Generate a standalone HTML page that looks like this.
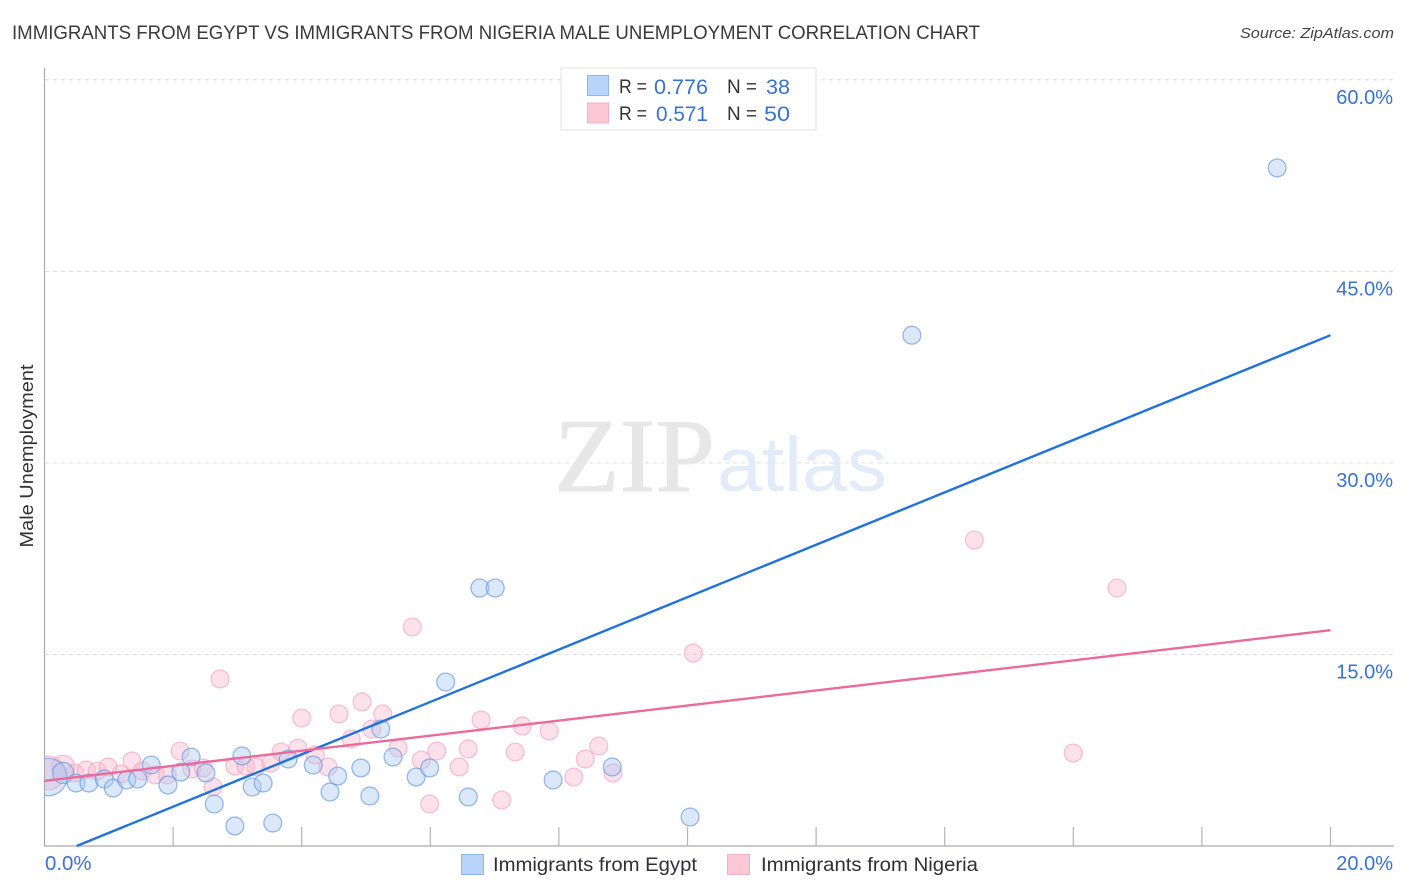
<!DOCTYPE html>
<html><head><meta charset="utf-8"><title>Immigrants from Egypt vs Immigrants from Nigeria Male Unemployment Correlation Chart</title>
<style>
html,body{margin:0;padding:0;background:#fff;width:1406px;height:892px;overflow:hidden}
svg{display:block;font-family:"Liberation Sans",sans-serif}
</style></head>
<body>
<svg id="chart" width="1406" height="892" viewBox="0 0 1406 892" xmlns="http://www.w3.org/2000/svg">
<defs><clipPath id="plot-clip"><rect x="45" y="60" width="1349" height="786"/></clipPath></defs>
<text x="12" y="39" font-size="19.5" fill="#3a3a3a" textLength="968" lengthAdjust="spacingAndGlyphs">IMMIGRANTS FROM EGYPT VS IMMIGRANTS FROM NIGERIA MALE UNEMPLOYMENT CORRELATION CHART</text>
<text x="1394" y="38" font-size="15" font-style="italic" fill="#444" text-anchor="end" textLength="154" lengthAdjust="spacingAndGlyphs">Source: ZipAtlas.com</text>
<g id="grid"></g>
<g>
<text x="554" y="491" font-family="'Liberation Serif',serif" font-size="105" fill="#e7e7e7" stroke="#e7e7e7" stroke-width="1" textLength="161" lengthAdjust="spacingAndGlyphs">ZIP</text>
<text x="717" y="491" font-size="77" fill="#e2ebfa" textLength="170" lengthAdjust="spacingAndGlyphs">atlas</text>
</g>
<g id="axes"></g>
<g id="points" clip-path="url(#plot-clip)"></g>
<g id="trends"></g>
<text transform="translate(33,456) rotate(-90)" font-size="18.5" fill="#333" text-anchor="middle" textLength="183" lengthAdjust="spacingAndGlyphs">Male Unemployment</text>
<g>
<rect x="561" y="68" width="255" height="62" fill="#fff" stroke="#e2e2e2" stroke-width="1"/>
<rect x="587.5" y="75.5" width="21" height="20" fill="#b8d4f8" stroke="#8fb6e8"/>
<rect x="587.5" y="103" width="21" height="20" fill="#fcc8d8" stroke="#f5b0c6"/>
<text x="619" y="93" font-size="19" fill="#333" textLength="28" lengthAdjust="spacingAndGlyphs">R =</text>
<text x="654" y="94" font-size="21" fill="#3a72d0" textLength="54" lengthAdjust="spacingAndGlyphs">0.776</text>
<text x="727" y="93" font-size="19" fill="#333" textLength="30" lengthAdjust="spacingAndGlyphs">N =</text>
<text x="766" y="94" font-size="21" fill="#3a72d0" textLength="24" lengthAdjust="spacingAndGlyphs">38</text>
<text x="619" y="120" font-size="19" fill="#333" textLength="28" lengthAdjust="spacingAndGlyphs">R =</text>
<text x="656" y="121" font-size="21" fill="#3a72d0" textLength="52" lengthAdjust="spacingAndGlyphs">0.571</text>
<text x="727" y="120" font-size="19" fill="#333" textLength="30" lengthAdjust="spacingAndGlyphs">N =</text>
<text x="764" y="121" font-size="21" fill="#3a72d0" textLength="26" lengthAdjust="spacingAndGlyphs">50</text>
</g>
<g>
<rect x="461.5" y="854.5" width="22" height="20" fill="#b8d4f8" stroke="#8fb6e8"/>
<text x="493" y="871" font-size="19.5" fill="#2f2f3a" textLength="204" lengthAdjust="spacingAndGlyphs">Immigrants from Egypt</text>
<rect x="727.5" y="854.5" width="22" height="20" fill="#fcc8d8" stroke="#f5b0c6"/>
<text x="761" y="871" font-size="19.5" fill="#2f2f3a" textLength="217" lengthAdjust="spacingAndGlyphs">Immigrants from Nigeria</text>
</g>
</svg>
<script>
const yTicks = [0, 15, 30, 45, 60];
const yTickLabels = ['', '15.0%', '30.0%', '45.0%', '60.0%'];
const xTicks = [0, 2, 4, 6, 8, 10, 12, 14, 16, 18, 20];
const xEndLabels = ['0.0%', '20.0%'];

const egyptX = [0.06,0.29,0.49,0.69,0.93,1.07,1.28,1.45,1.66,1.92,2.12,2.28,2.51,2.64,2.96,3.07,3.23,3.40,3.55,3.79,4.18,4.44,4.56,4.92,5.06,5.23,5.42,5.78,5.99,6.24,6.59,6.77,7.01,7.91,8.83,10.04,13.49,19.17];
const egyptY = [5.40,5.72,4.93,4.93,5.25,4.54,5.17,5.25,6.34,4.78,5.79,6.97,5.72,3.29,1.57,7.05,4.62,4.93,1.80,6.81,6.34,4.23,5.48,6.11,3.92,9.16,6.97,5.40,6.11,12.84,3.84,20.2,20.2,5.17,6.19,2.27,40.0,53.1];
const nigeriaX = [0.06,0.29,0.47,0.65,0.82,0.99,1.19,1.36,1.52,1.72,1.91,2.11,2.29,2.47,2.62,2.73,2.96,3.13,3.29,3.52,3.68,3.94,4.00,4.21,4.41,4.58,4.77,4.94,5.09,5.26,5.50,5.72,5.86,5.99,6.10,6.45,6.59,6.79,7.11,7.32,7.43,7.85,8.23,8.41,8.62,8.84,10.09,14.46,16.00,16.68];
const nigeriaY = [5.72,6.19,5.72,5.95,5.87,6.19,5.64,6.66,5.87,5.56,5.56,7.44,6.03,6.11,4.62,13.08,6.26,6.26,6.19,6.50,7.36,7.67,10.02,7.13,6.19,10.34,8.38,11.28,9.16,10.34,7.67,17.15,6.73,3.29,7.44,6.19,7.60,9.87,3.60,7.36,9.40,9.00,5.40,6.81,7.83,5.72,15.11,23.96,7.28,20.2];
const egyptWeights = [4.4,1.4];
const nigeriaWeights = [3.6,1.7];
const egyptTrendX = [0.5, 20];
const egyptTrendY = [0, 40];
const nigeriaTrendX = [0, 20];
const nigeriaTrendY = [5.1, 16.9];

const NS = 'http://www.w3.org/2000/svg';
const xPos = v => 44.5 + v * 64.3;
const yPos = v => 846 - v * 12.77;
const make = (parent, tag, attrs) => {
  const el = document.createElementNS(NS, tag);
  for (const k in attrs) el.setAttribute(k, attrs[k]);
  parent.appendChild(el);
  return el;
};
const gridG = document.getElementById('grid');
const axesG = document.getElementById('axes');
const pointsG = document.getElementById('points');
const trendsG = document.getElementById('trends');

yTicks.forEach((t, i) => {
  if (t === 0) return;
  const line = make(gridG, 'line', {x1: 45, x2: 1394, y1: yPos(t), y2: yPos(t), stroke: '#dedede', 'stroke-width': 1, 'stroke-dasharray': '4 4'});
  
  
  const label = make(axesG, 'text', {x: 1393, y: yPos(t) + 24, 'font-size': 20, fill: '#3a72d0', 'text-anchor': 'end'});
  label.textContent = yTickLabels[i];
  
  
});

const yAxis = make(axesG, 'line', {x1: 44.5, x2: 44.5, y1: 68, y2: 846, stroke: '#aaa', 'stroke-width': 1.2});


const xAxis = make(axesG, 'line', {x1: 44, x2: 1394, y1: 846, y2: 846, stroke: '#aaa', 'stroke-width': 1.2});


xTicks.forEach(t => {
  if (t === 0) return;
  const tick = make(axesG, 'line', {x1: xPos(t), x2: xPos(t), y1: 827, y2: 846, stroke: '#b4b4b4', 'stroke-width': 1.2});
  
  
});
const xStart = make(axesG, 'text', {x: 45, y: 870, 'font-size': 20.4, fill: '#3a72d0'});
xStart.textContent = xEndLabels[0];


const xEnd = make(axesG, 'text', {x: 1393, y: 870, 'font-size': 20, fill: '#3a72d0', 'text-anchor': 'end'});
xEnd.textContent = xEndLabels[1];



function drawSeries(xs, ys, weights, fill, stroke, name) {
  xs.forEach((x, i) => {
    const w = i < weights.length ? weights[i] : 1;
    const c = make(pointsG, 'circle', {cx: xPos(x), cy: yPos(ys[i]), r: 8.9 * Math.sqrt(w), fill: fill, 'fill-opacity': 0.42, stroke: stroke, 'stroke-opacity': 0.65, 'stroke-width': 1.3});
    
    
  });
}
drawSeries(nigeriaX, nigeriaY, nigeriaWeights, '#fbb8cd', '#f4a3bd', 'nigeria');
drawSeries(egyptX, egyptY, egyptWeights, '#a9c9f4', '#5f97e2', 'egypt');

const blueTrend = make(trendsG, 'line', {x1: xPos(egyptTrendX[0]), y1: yPos(egyptTrendY[0]), x2: xPos(egyptTrendX[1]), y2: yPos(egyptTrendY[1]), stroke: '#2272dc', 'stroke-width': 2.4});


const pinkTrend = make(trendsG, 'line', {x1: xPos(nigeriaTrendX[0]), y1: yPos(nigeriaTrendY[0]), x2: xPos(nigeriaTrendX[1]), y2: yPos(nigeriaTrendY[1]), stroke: '#ea6a9a', 'stroke-width': 2.4});


</script>
</body></html>
